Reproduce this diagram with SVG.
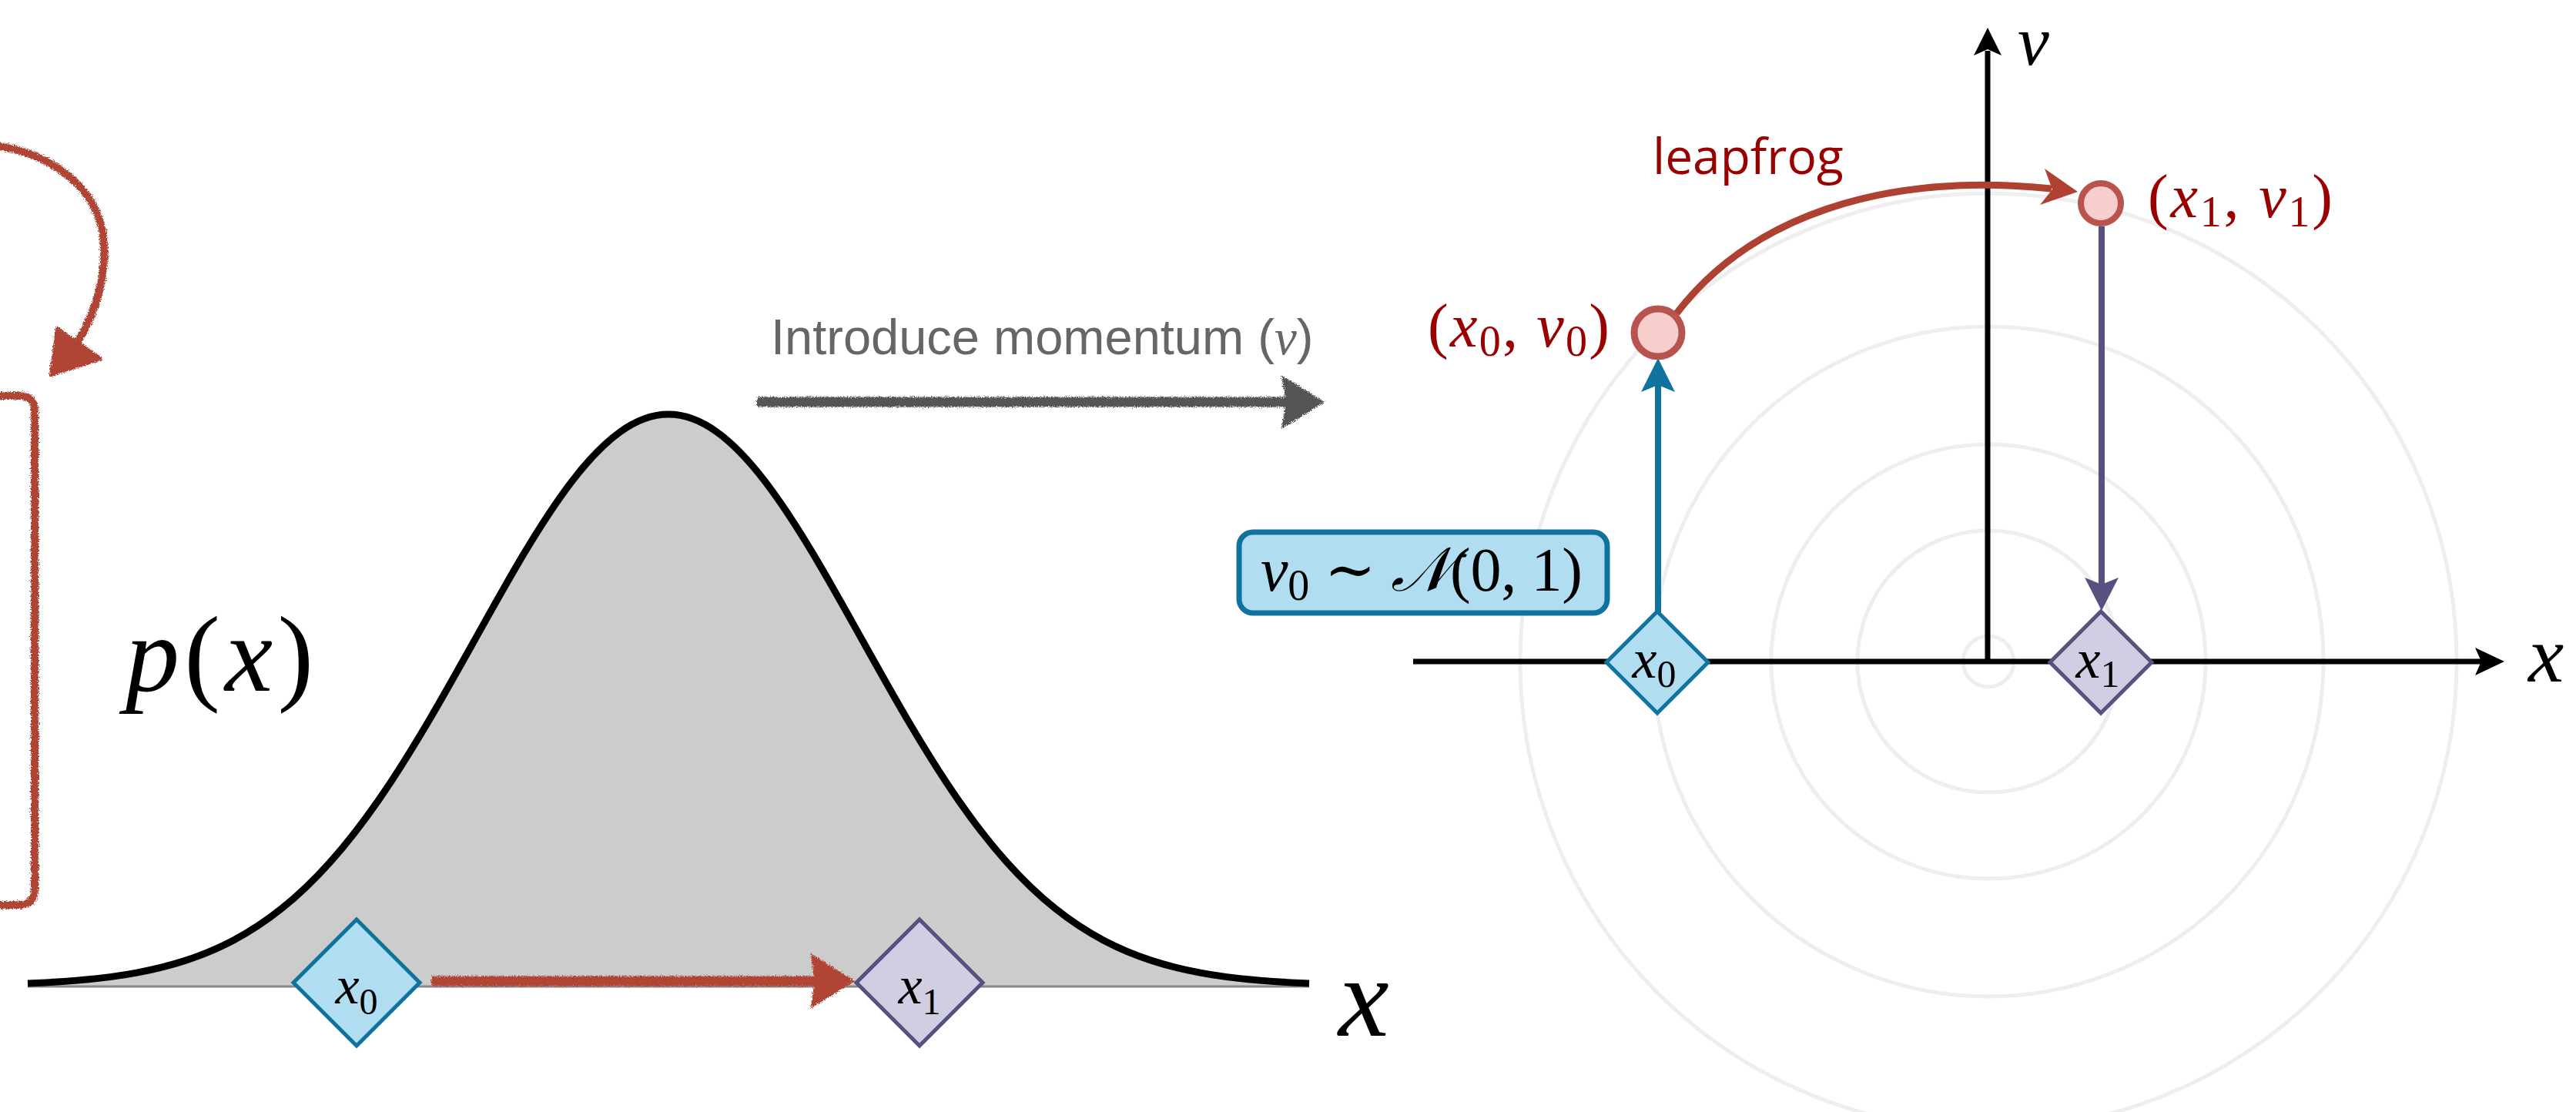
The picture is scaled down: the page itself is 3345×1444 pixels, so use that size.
<svg xmlns="http://www.w3.org/2000/svg" width="3345" height="1444" viewBox="0 0 3345 1444">
<style>
.it{font-style:italic;}
.ring{fill:none;stroke:#eeeeee;stroke-width:5;}
.axis{stroke:#000;stroke-width:7;fill:none;}
.dblue{fill:#b1ddf0;stroke:#10739e;stroke-width:5;stroke-linejoin:miter;}
.dpurp{fill:#d0cee2;stroke:#56517e;stroke-width:5;stroke-linejoin:miter;}
.state{fill:#f8cecc;stroke:#b85450;}
.red{fill:#990000;}
.sketch{fill:none;stroke:#b04535;stroke-width:10;stroke-linecap:round;stroke-linejoin:round;}
</style>
<defs>
<filter id="rough" filterUnits="userSpaceOnUse" x="-60" y="0" width="3460" height="1444">
<feTurbulence type="fractalNoise" baseFrequency="0.7" numOctaves="2" seed="4" result="n"/>
<feDisplacementMap in="SourceGraphic" in2="n" scale="7" xChannelSelector="R" yChannelSelector="G"/>
</filter>
</defs>
<rect width="3345" height="1444" fill="#ffffff"/>

<!-- left panel: density -->
<g id="density">
<path d="M36,1277 C62.33,1275.94 88.67,1274.39 115,1271.8 C135.92,1269.74 156.83,1266.98 177.75,1263.1 C198.67,1259.22 219.58,1254.19 240.5,1247.4 C261.42,1240.61 282.33,1232.07 303.25,1221 C324.17,1209.93 345.08,1196.33 366,1179.6 C386.92,1162.87 407.83,1142.9 428.75,1119.5 C449.67,1096.1 470.58,1069.21 491.5,1039.1 C512.42,1008.99 533.33,975.68 554.25,940.3 C575.17,904.92 596.08,867.5 617,830 C637.92,792.5 658.83,754.9 679.75,719.9 C700.67,684.9 721.58,652.48 742.5,625.2 C763.42,597.92 784.33,575.78 805.25,560.8 C826.17,545.82 847.08,538 868,538 C888.92,538 909.83,545.82 930.75,560.8 C951.67,575.78 972.58,597.92 993.5,625.2 C1014.42,652.48 1035.33,684.9 1056.25,719.9 C1077.17,754.9 1098.08,792.5 1119,830 C1139.92,867.5 1160.83,904.92 1181.75,940.3 C1202.67,975.68 1223.58,1008.99 1244.5,1039.1 C1265.42,1069.21 1286.33,1096.1 1307.25,1119.5 C1328.17,1142.9 1349.08,1162.87 1370,1179.6 C1390.92,1196.33 1411.83,1209.93 1432.75,1221 C1453.67,1232.07 1474.58,1240.61 1495.5,1247.4 C1516.42,1254.19 1537.33,1259.22 1558.25,1263.1 C1579.17,1266.98 1600.08,1269.74 1621,1271.8 C1647.33,1274.39 1673.67,1275.94 1700,1277 L1700,1281 L36,1281 Z" fill="#cccccc" stroke="none"/>
<line x1="36" y1="1281" x2="1700" y2="1281" stroke="#888888" stroke-width="3"/>
<path d="M36,1277 C62.33,1275.94 88.67,1274.39 115,1271.8 C135.92,1269.74 156.83,1266.98 177.75,1263.1 C198.67,1259.22 219.58,1254.19 240.5,1247.4 C261.42,1240.61 282.33,1232.07 303.25,1221 C324.17,1209.93 345.08,1196.33 366,1179.6 C386.92,1162.87 407.83,1142.9 428.75,1119.5 C449.67,1096.1 470.58,1069.21 491.5,1039.1 C512.42,1008.99 533.33,975.68 554.25,940.3 C575.17,904.92 596.08,867.5 617,830 C637.92,792.5 658.83,754.9 679.75,719.9 C700.67,684.9 721.58,652.48 742.5,625.2 C763.42,597.92 784.33,575.78 805.25,560.8 C826.17,545.82 847.08,538 868,538 C888.92,538 909.83,545.82 930.75,560.8 C951.67,575.78 972.58,597.92 993.5,625.2 C1014.42,652.48 1035.33,684.9 1056.25,719.9 C1077.17,754.9 1098.08,792.5 1119,830 C1139.92,867.5 1160.83,904.92 1181.75,940.3 C1202.67,975.68 1223.58,1008.99 1244.5,1039.1 C1265.42,1069.21 1286.33,1096.1 1307.25,1119.5 C1328.17,1142.9 1349.08,1162.87 1370,1179.6 C1390.92,1196.33 1411.83,1209.93 1432.75,1221 C1453.67,1232.07 1474.58,1240.61 1495.5,1247.4 C1516.42,1254.19 1537.33,1259.22 1558.25,1263.1 C1579.17,1266.98 1600.08,1269.74 1621,1271.8 C1647.33,1274.39 1673.67,1275.94 1700,1277" fill="none" stroke="#000000" stroke-width="9"/>
<text font-family="'Liberation Serif', serif" x="163" y="897" font-size="140" textLength="244" lengthAdjust="spacing"><tspan class="it">p</tspan>(<tspan class="it">x</tspan>)</text>
<text font-family="'Liberation Serif', serif" class="it" x="1738" y="1345" font-size="148">x</text>
</g>

<!-- right panel: phase space -->
<g id="phase-space">
<circle class="ring" cx="2582" cy="859" r="33"/>
<circle class="ring" cx="2582" cy="859" r="170"/>
<circle class="ring" cx="2582" cy="859" r="282"/>
<circle class="ring" cx="2582" cy="859" r="435"/>
<circle class="ring" cx="2582" cy="859" r="608"/>
<line class="axis" x1="1835" y1="859" x2="3225" y2="859"/>
<polygon points="3252,859 3214,841 3222,859 3214,877" fill="#000"/>
<line class="axis" x1="2581" y1="859" x2="2581" y2="66"/>
<polygon points="2581,36 2563,72 2581,64 2599,72" fill="#000"/>
<text font-family="'Liberation Serif', serif" class="it" x="3283" y="885" font-size="104">x</text>
<text font-family="'Liberation Serif', serif" class="it" x="2620" y="84" font-size="92">v</text>
</g>

<!-- connectors -->
<g id="connectors">
<g filter="url(#rough)">
<path class="sketch" d="M-8,189 C50,195 120,232 133,300 C141,350 126,405 100,445"/>
<polygon points="66,487 74,426 131,466" fill="#b04535" stroke="#b04535" stroke-width="4" stroke-linejoin="round"/>
<path class="sketch" d="M-10,514 L25,514 Q45,514 45,534 L45,1155 Q45,1175 25,1175 L-10,1175"/>
<line x1="560" y1="1274" x2="1062" y2="1274" stroke="#b04535" stroke-width="13"/>
<polygon points="1110,1274 1052,1238 1058,1274 1052,1310" fill="#b04535"/>
<line x1="983" y1="522" x2="1672" y2="522" stroke="#555555" stroke-width="13"/>
<polygon points="1720,522 1664,487 1670,522 1664,557" fill="#555555"/>
</g>
<path d="M2177,407 C2270,285 2440,222 2664,245" fill="none" stroke="#ae4132" stroke-width="9"/>
<polygon points="2698,249 2655,219 2665,246 2649,266" fill="#ae4132"/>
<line x1="2153" y1="795" x2="2153" y2="500" stroke="#10739e" stroke-width="8"/>
<polygon points="2153,465 2131,509 2153,500 2175,509" fill="#10739e"/>
<line x1="2729" y1="294" x2="2729" y2="760" stroke="#56517e" stroke-width="8"/>
<polygon points="2729,793 2707,750 2729,759 2751,750" fill="#56517e"/>
</g>

<!-- nodes -->
<g id="left-x0">
<polygon class="dblue" points="463,1194 545,1276 463,1358 381,1276"/>
<text font-family="'Liberation Serif', serif" x="463" y="1303" font-size="70" text-anchor="middle"><tspan class="it">x</tspan><tspan font-size="48" dy="14">0</tspan></text>
</g>
<g id="left-x1">
<polygon class="dpurp" points="1194,1194 1276,1276 1194,1358 1112,1276"/>
<text font-family="'Liberation Serif', serif" x="1194" y="1303" font-size="70" text-anchor="middle"><tspan class="it">x</tspan><tspan font-size="48" dy="14">1</tspan></text>
</g>
<g id="right-x0">
<polygon class="dblue" points="2152,794 2218,860 2152,926 2086,860"/>
<text font-family="'Liberation Serif', serif" x="2148" y="880" font-size="72" text-anchor="middle"><tspan class="it">x</tspan><tspan font-size="50" dy="12">0</tspan></text>
</g>
<g id="right-x1">
<polygon class="dpurp" points="2728,794 2794,860 2728,926 2662,860"/>
<text font-family="'Liberation Serif', serif" x="2724" y="880" font-size="72" text-anchor="middle"><tspan class="it">x</tspan><tspan font-size="50" dy="12">1</tspan></text>
</g>
<g id="state0">
<circle class="state" cx="2153" cy="432" r="31" stroke-width="9"/>
<text font-family="'Liberation Serif', serif" class="red" x="1854" y="450" font-size="80" textLength="236" lengthAdjust="spacing">(<tspan class="it">x</tspan><tspan font-size="56" dy="12">0</tspan><tspan dy="-12">, </tspan><tspan class="it">v</tspan><tspan font-size="56" dy="12">0</tspan><tspan dy="-12">)</tspan></text>
</g>
<g id="state1">
<circle class="state" cx="2728" cy="264" r="26" stroke-width="8"/>
<text font-family="'Liberation Serif', serif" class="red" x="2789" y="282" font-size="80" textLength="240" lengthAdjust="spacing">(<tspan class="it">x</tspan><tspan font-size="56" dy="12">1</tspan><tspan dy="-12">, </tspan><tspan class="it">v</tspan><tspan font-size="56" dy="12">1</tspan><tspan dy="-12">)</tspan></text>
</g>
<g id="box-v0">
<rect x="1609" y="691" width="478" height="105" rx="18" ry="18" fill="#b1ddf0" stroke="#10739e" stroke-width="7"/>
<text font-family="'Liberation Serif', 'DejaVu Serif', serif" x="1637" y="767" font-size="80" textLength="418" lengthAdjust="spacing"><tspan class="it">v</tspan><tspan font-size="56" dy="12">0</tspan><tspan dy="-12"> ∼ </tspan><tspan class="it">𝒩</tspan>(0, 1)</text>
</g>
<g id="labels">
<text x="2146" y="226" font-family="'Open Sans', 'Noto Sans', sans-serif" font-size="64" fill="#990000">leapfrog</text>
<text x="1001" y="460" font-family="'Liberation Sans', Arial, sans-serif" font-size="65" fill="#666666">Introduce momentum (<tspan font-family="'Liberation Serif', serif" class="it">v</tspan>)</text>
</g>
</svg>
